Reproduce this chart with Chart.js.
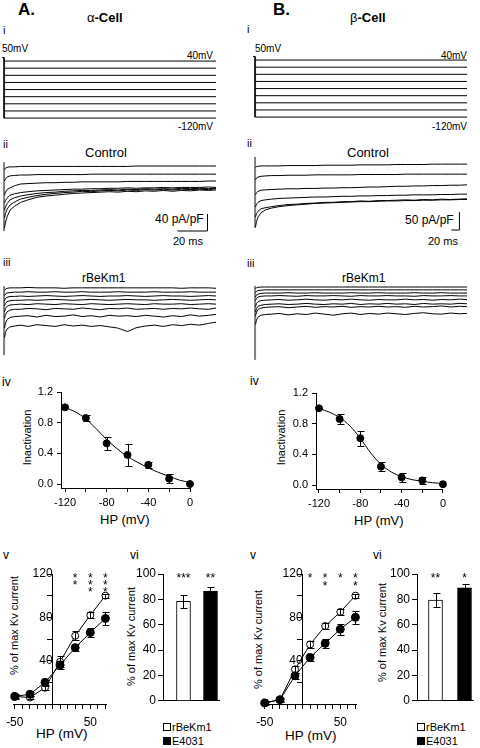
<!DOCTYPE html>
<html>
<head>
<meta charset="utf-8">
<script src="https://cdn.jsdelivr.net/npm/chart.js@4.4.1/dist/chart.umd.min.js"></script>
<style>
body { margin: 0; background: #fff; }
#fig { position: relative; width: 480px; height: 748px; overflow: hidden; font-family: "Liberation Sans", Arial, sans-serif; color: #000; }
#fig canvas { position: absolute; }
.t { position: absolute; white-space: nowrap; line-height: 1; }
.rot { transform: rotate(-90deg); transform-origin: center; text-align: center; width: 140px; }
.sq { position: absolute; width: 6px; height: 6px; border: 1px solid #000; }
</style>
</head>
<body>
<div id="fig">
  <!-- panel A -->
  <div class="t" style="left:18px;top:1px;font-size:17px;font-weight:bold">A.</div>
  <div class="t" style="left:87px;top:11px;font-size:13px">α<b>-Cell</b></div>
  <div class="t" style="left:3px;top:25px;font-size:11px">i</div>
  <div class="t" style="left:2px;top:44px;font-size:10px">50mV</div>
  <div class="t" style="right:267px;top:51px;font-size:10px">40mV</div>
  <div class="t" style="right:267px;top:122px;font-size:10px">-120mV</div>
  <div class="t" style="left:3px;top:139px;font-size:11px">ii</div>
  <div class="t" style="left:85px;top:146px;font-size:13px">Control</div>
  <div class="t" style="left:155px;top:213px;font-size:12px">40 pA/pF</div>
  <div class="t" style="left:173px;top:236px;font-size:11px">20 ms</div>
  <div class="t" style="left:3px;top:257px;font-size:11px">iii</div>
  <div class="t" style="left:82px;top:272px;font-size:12px">rBeKm1</div>
  <div class="t" style="left:2px;top:376px;font-size:12px">iv</div>
  <div class="t rot" style="left:-43px;top:432px;font-size:11px">Inactivation</div>
  <div class="t" style="left:100px;top:513px;font-size:13px">HP (mV)</div>
  <div class="t" style="left:3px;top:549px;font-size:12px">v</div>
  <div class="t" style="left:130px;top:549px;font-size:12px">vi</div>
  <div class="t rot" style="left:-56px;top:620px;font-size:11px">% of max Kv current</div>
  <div class="t" style="left:36px;top:727px;font-size:13.5px">HP (mV)</div>
  <div class="t rot" style="left:61px;top:631px;font-size:11px">% of max Kv current</div>
  <div class="sq" style="left:163px;top:723px;background:#fff"></div>
  <div class="t" style="left:172px;top:722px;font-size:11px">rBeKm1</div>
  <div class="sq" style="left:163px;top:737px;background:#000"></div>
  <div class="t" style="left:172px;top:736px;font-size:11px">E4031</div>

  <!-- panel B -->
  <div class="t" style="left:273px;top:1px;font-size:17px;font-weight:bold">B.</div>
  <div class="t" style="left:350px;top:11px;font-size:13px">β<b>-Cell</b></div>
  <div class="t" style="left:247px;top:24px;font-size:11px">i</div>
  <div class="t" style="left:255px;top:44px;font-size:10px">50mV</div>
  <div class="t" style="right:13px;top:51px;font-size:10px">40mV</div>
  <div class="t" style="right:13px;top:122px;font-size:10px">-120mV</div>
  <div class="t" style="left:247px;top:138px;font-size:11px">ii</div>
  <div class="t" style="left:347px;top:146px;font-size:13px">Control</div>
  <div class="t" style="left:405px;top:214px;font-size:12px">50 pA/pF</div>
  <div class="t" style="left:428px;top:236px;font-size:11px">20 ms</div>
  <div class="t" style="left:247px;top:258px;font-size:11px">iii</div>
  <div class="t" style="left:342px;top:272px;font-size:12px">rBeKm1</div>
  <div class="t" style="left:250px;top:375px;font-size:12px">iv</div>
  <div class="t rot" style="left:211px;top:432px;font-size:11px">Inactivation</div>
  <div class="t" style="left:354px;top:514px;font-size:13px">HP (mV)</div>
  <div class="t" style="left:250px;top:549px;font-size:12px">v</div>
  <div class="t" style="left:373px;top:549px;font-size:12px">vi</div>
  <div class="t rot" style="left:188px;top:634px;font-size:11px">% of max Kv current</div>
  <div class="t" style="left:285px;top:729px;font-size:13.5px">HP (mV)</div>
  <div class="t rot" style="left:312px;top:627px;font-size:11px">% of max Kv current</div>
  <div class="sq" style="left:417px;top:723px;background:#fff"></div>
  <div class="t" style="left:426px;top:722px;font-size:11px">rBeKm1</div>
  <div class="sq" style="left:417px;top:737px;background:#000"></div>
  <div class="t" style="left:426px;top:736px;font-size:11px">E4031</div>
</div>

<script>
// ---- i: voltage protocol (mV, ms) ----
var holdLevels = [40, 20, 0, -20, -40, -60, -80, -100, -120];
var testPulse = 50;
var alphaSweep = 141;
var betaSweep = 529;

// ---- ii / iii: current traces in pA/pF, sampled at the time points below (ms) ----
var alphaTime = [0.3, 1, 2, 4, 7, 11, 16, 22, 28, 34, 40, 46, 52, 58, 64, 70, 76, 82, 88, 94, 100, 106, 112, 118, 124, 130, 136, 141];
var betaTime = [1.1, 3.8, 7.5, 15, 26, 41, 60, 83, 105, 128, 150, 173, 195, 218, 240, 263, 285, 308, 330, 353, 375, 398, 420, 443, 465, 488, 510, 529];

var alphaControl = [
  [152, 156, 158, 159, 159, 160, 160, 160, 160, 160, 160, 160, 160, 160, 160, 160, 160, 160, 161, 161, 161, 161, 161, 161, 161, 161, 161, 161],
  [126, 131, 135, 138, 139, 140, 140, 141, 141, 141, 141, 141, 141, 142, 142, 142, 142, 142, 142, 142, 142, 142, 142, 142, 142, 142, 142, 142],
  [93, 100, 106, 110, 115, 119, 120, 121, 122, 122, 123, 123, 124, 124, 124, 124, 124, 125, 125, 125, 125, 125, 125, 125, 125, 125, 126, 126],
  [75, 80, 86, 93, 96, 99, 101, 103, 104, 105, 106, 107, 107, 108, 108, 109, 109, 110, 109, 110, 110, 111, 110, 111, 111, 111, 112, 111],
  [58, 66, 73, 82, 87, 91, 94, 97, 99, 100, 102, 103, 104, 104, 105, 106, 105, 107, 106, 108, 107, 108, 107, 109, 108, 109, 108, 109],
  [40, 50, 60, 70, 77, 84, 88, 92, 95, 97, 99, 100, 102, 101, 103, 104, 103, 105, 104, 106, 105, 107, 105, 107, 106, 107, 106, 108],
  [16, 30, 42, 58, 67, 76, 82, 88, 91, 93, 95, 97, 98, 99, 100, 101, 100, 102, 101, 103, 102, 104, 102, 104, 103, 105, 104, 105]
];
var alphaRbekm1 = [
  [160, 163, 165, 166, 166, 166, 167, 166, 166, 166, 165, 166, 166, 166, 166, 166, 166, 166, 166, 166, 166, 166, 166, 165, 166, 166, 166, 165],
  [148, 152, 154, 155, 156, 156, 157, 156, 156, 157, 156, 156, 157, 156, 156, 156, 157, 156, 156, 156, 157, 156, 156, 156, 157, 156, 156, 156],
  [136, 141, 144, 146, 146, 147, 146, 147, 148, 147, 146, 147, 148, 147, 146, 147, 147, 148, 147, 146, 147, 148, 147, 147, 146, 147, 148, 147],
  [124, 130, 134, 136, 137, 137, 138, 137, 138, 139, 138, 137, 138, 139, 138, 137, 138, 139, 138, 138, 137, 138, 139, 138, 137, 138, 139, 138],
  [110, 118, 123, 126, 127, 128, 127, 129, 128, 127, 129, 128, 127, 129, 128, 127, 128, 129, 128, 127, 129, 128, 128, 129, 127, 128, 129, 128],
  [95, 104, 110, 114, 116, 116, 118, 117, 115, 118, 117, 116, 119, 117, 115, 118, 117, 119, 116, 117, 118, 116, 118, 117, 119, 117, 116, 119],
  [72, 84, 92, 97, 99, 100, 101, 98, 102, 99, 100, 103, 99, 101, 98, 102, 100, 101, 99, 102, 100, 98, 101, 99, 103, 100, 102, 104],
  [50, 62, 70, 75, 77, 79, 76, 80, 78, 76, 80, 77, 79, 76, 78, 75, 72, 64, 73, 77, 79, 76, 80, 78, 81, 79, 83, 86]
];
var betaControl = [
  [180, 183, 184, 185, 185, 185, 185, 186, 186, 186, 186, 187, 187, 187, 187, 188, 188, 188, 188, 189, 189, 189, 189, 190, 190, 190, 190, 190],
  [146, 151, 154, 156, 157, 158, 158, 159, 159, 159, 160, 160, 160, 160, 160, 161, 161, 161, 161, 161, 162, 162, 162, 162, 162, 162, 162, 162],
  [104, 110, 114, 117, 118, 119, 120, 121, 121, 122, 122, 123, 123, 124, 124, 125, 126, 126, 127, 128, 128, 129, 129, 130, 130, 131, 131, 132],
  [70, 78, 83, 88, 90, 92, 94, 95, 96, 97, 98, 98, 99, 100, 100, 101, 101, 102, 102, 103, 103, 104, 104, 104, 105, 105, 106, 106],
  [42, 52, 58, 65, 68, 71, 74, 77, 78, 80, 81, 83, 83, 85, 85, 87, 86, 88, 88, 89, 90, 89, 91, 90, 92, 91, 92, 93],
  [14, 30, 42, 54, 62, 67, 71, 74, 76, 78, 80, 81, 82, 83, 84, 85, 85, 86, 87, 87, 88, 88, 89, 89, 90, 90, 91, 91]
];
var betaRbekm1 = [
  [205, 208, 209, 210, 210, 210, 210, 210, 210, 210, 210, 210, 210, 210, 210, 210, 210, 210, 210, 210, 210, 210, 210, 210, 210, 210, 210, 210],
  [194, 198, 200, 201, 202, 202, 202, 202, 202, 202, 202, 202, 202, 202, 202, 202, 202, 202, 202, 202, 202, 202, 202, 202, 202, 202, 202, 202],
  [182, 188, 190, 192, 193, 193, 193, 194, 193, 193, 194, 193, 193, 193, 194, 193, 193, 194, 193, 193, 193, 194, 193, 193, 194, 193, 193, 193],
  [172, 178, 182, 184, 185, 185, 186, 185, 184, 186, 185, 185, 186, 185, 184, 186, 185, 185, 186, 185, 185, 184, 186, 185, 185, 186, 185, 185],
  [155, 164, 169, 172, 173, 174, 175, 173, 174, 176, 174, 173, 175, 174, 176, 174, 173, 175, 174, 174, 176, 174, 175, 173, 175, 174, 176, 175],
  [140, 150, 156, 159, 161, 162, 163, 161, 162, 164, 162, 161, 163, 162, 164, 161, 163, 162, 164, 162, 163, 161, 164, 162, 163, 162, 164, 163],
  [128, 140, 147, 151, 153, 154, 155, 152, 154, 156, 153, 155, 154, 156, 153, 155, 154, 156, 154, 155, 153, 156, 154, 155, 157, 154, 156, 155],
  [105, 118, 126, 131, 133, 134, 136, 132, 135, 133, 137, 134, 131, 135, 137, 133, 136, 134, 137, 135, 133, 136, 138, 135, 134, 137, 135, 136]
];
// capacitive transient at pulse onset (pA/pF span)
var alphaCtrlSpike = [9, 170];
var alphaRbSpike = [9, 170];
var betaCtrlSpike = [11, 210];
var betaRbSpike = [6, 213];
// scale bars: 20 ms and 40 / 50 pA/pF
var alphaBarT = [115.3, 135.3, 135.3];
var alphaBarI = [9.3, 9.3, 49.3];
var betaBarT = [490, 510, 510];
var betaBarI = [5.6, 5.6, 55.6];

// ---- iv: steady-state inactivation ----
var hpInact = [-120, -100, -80, -60, -40, -20, 0];
var alphaInact = [1.0, 0.86, 0.53, 0.38, 0.25, 0.07, 0.0];
var alphaInactErr = [0, 0.04, 0.085, 0.14, 0.035, 0.055, 0];
var betaInact = [1.0, 0.86, 0.61, 0.24, 0.1, 0.06, 0.01];
var betaInactErr = [0, 0.06, 0.1, 0.06, 0.06, 0.05, 0];
var hpFit = [-120, -110, -100, -90, -80, -70, -60, -50, -40, -30, -20, -10, 0];
var alphaFit = [1.0, 0.94, 0.85, 0.72, 0.58, 0.46, 0.36, 0.28, 0.21, 0.15, 0.1, 0.05, 0.02];
var betaFit = [1.0, 0.95, 0.88, 0.77, 0.61, 0.42, 0.27, 0.17, 0.11, 0.07, 0.05, 0.03, 0.02];

// ---- v: % of max Kv current vs HP ----
var hpV = [-50, -30, -10, 10, 30, 50, 70];
var alphaRb = [7, 6, 15, 39, 63, 82, 100];
var alphaRbErr = [1, 1, 2, 5, 4, 3, 2];
var alphaE4031 = [7, 9, 20, 36, 52, 66, 79];
var alphaE4031Err = [2, 2, 2, 4, 3, 4, 6];
var alphaVStars = ['', '', '', '', '**', '***', '***'];
var betaRb = [1, 4, 32, 55, 72, 85, 100];
var betaRbErr = [1, 1, 3, 3, 3, 3, 2];
var betaE4031 = [1, 4, 26, 43, 56, 69, 80];
var betaE4031Err = [2, 2, 3, 3, 4, 5, 6];
var betaVStars = ['', '', '', '*', '**', '*', '**'];

// ---- vi: bars ----
var barNames = ['rBeKm1', 'E4031'];
var alphaBars = [78.5, 86.5];
var alphaBarsErr = [5, 3];
var alphaBarStars = ['***', '**'];
var betaBars = [79.5, 89];
var betaBarsErr = [5.5, 3.5];
var betaBarStars = ['**', '*'];

Chart.defaults.font.family = '"Liberation Sans", Arial, sans-serif';
Chart.defaults.font.size = 11;
Chart.defaults.color = '#000';
Chart.defaults.animation = false;
Chart.defaults.responsive = false;
Chart.defaults.devicePixelRatio = 1;
Chart.defaults.events = [];
Chart.defaults.plugins.legend.display = false;
Chart.defaults.plugins.tooltip.enabled = false;

var fig = document.getElementById('fig');

function canvasAt(left, top, w, h) {
  var c = document.createElement('canvas');
  c.width = w; c.height = h;
  c.style.left = left + 'px'; c.style.top = top + 'px';
  c.style.width = w + 'px'; c.style.height = h + 'px';
  fig.appendChild(c);
  return c;
}

function pts(xs, ys) {
  return xs.map(function (x, i) { return { x: x, y: ys[i] }; });
}

function lineSet(xs, ys, extra) {
  return Object.assign({
    data: pts(xs, ys), showLine: true, borderColor: '#000', borderWidth: 1,
    pointRadius: 0, clip: false, tension: 0
  }, extra || {});
}

function fixedTicks(vals) {
  return function (s) { s.ticks = vals.map(function (v) { return { value: v }; }); };
}

// error bars drawn with the chart's own y scale
var errorBars = {
  id: 'errorBars',
  afterDatasetsDraw: function (chart) {
    var ctx = chart.ctx, ys = chart.scales.y;
    chart.data.datasets.forEach(function (ds, i) {
      if (!ds.errors) return;
      var meta = chart.getDatasetMeta(i);
      meta.data.forEach(function (el, j) {
        var e = ds.errors[j];
        if (!e) return;
        var v = ds.data[j].y;
        var top = Math.round(ys.getPixelForValue(v + e)) + 0.5;
        var bot = Math.round(ys.getPixelForValue(v - e)) + 0.5;
        var x = Math.round(el.x) + 0.5;
        ctx.save();
        ctx.strokeStyle = '#000';
        ctx.lineWidth = 1;
        ctx.beginPath();
        ctx.moveTo(x, top); ctx.lineTo(x, bot);
        ctx.moveTo(x - 3, top); ctx.lineTo(x + 4, top);
        ctx.moveTo(x - 3, bot); ctx.lineTo(x + 4, bot);
        ctx.stroke();
        ctx.restore();
      });
    });
  }
};

// significance stars placed at x values through the x scale
var starMarks = {
  id: 'starMarks',
  afterDatasetsDraw: function (chart, args, o) {
    if (!o.marks) return;
    var ctx = chart.ctx, xs = chart.scales.x;
    ctx.save();
    ctx.fillStyle = '#000';
    ctx.font = '12px "Liberation Sans", Arial, sans-serif';
    ctx.textAlign = 'center';
    ctx.textBaseline = 'alphabetic';
    o.marks.forEach(function (m, j) {
      if (!m) return;
      var x = xs.getPixelForValue(o.at[j]);
      var y0 = chart.chartArea.top + o.dy + 6.6;
      if (o.stack) {
        for (var k = 0; k < m.length; k++) ctx.fillText('*', x, y0 + k * o.gap);
      } else {
        ctx.fillText(m, x, y0);
      }
    });
    ctx.restore();
  }
};

var PAD = 3;
function traceChart(area, xr, yr, datasets) {
  var c = canvasAt(area[0] - PAD, area[1] - PAD, area[2] + 2 * PAD, area[3] + 2 * PAD);
  return new Chart(c, {
    type: 'scatter',
    data: { datasets: datasets },
    options: {
      layout: { padding: PAD },
      scales: {
        x: { type: 'linear', display: false, min: xr[0], max: xr[1] },
        y: { type: 'linear', display: false, min: yr[0], max: yr[1] }
      }
    }
  });
}

function protocolSets(end) {
  var sets = holdLevels.map(function (L) { return lineSet([0, end], [L, L]); });
  sets.push(lineSet([-end / 106, 0, 0], [testPulse, testPulse, holdLevels[holdLevels.length - 1]]));
  return sets;
}

function currentSets(time, traces, spike, barT, barI) {
  var sets = [lineSet([0, 0], spike)];
  traces.forEach(function (tr) { sets.push(lineSet(time, tr)); });
  if (barT) sets.push(lineSet(barT, barI));
  return sets;
}

function axisBase(extra) {
  return Object.assign({
    type: 'linear',
    grid: { drawOnChartArea: false, tickLength: 4, color: '#000', lineWidth: 1 },
    border: { display: true, color: '#000', width: 1 }
  }, extra);
}

// iv panel
function inactChart(box, area, xr, yr, ys, errs, fit) {
  var c = canvasAt(box[0], box[1], box[2], box[3]);
  var yw = area[0] - box[0], xh = box[1] + box[3] - area[3];
  return new Chart(c, {
    type: 'scatter',
    data: {
      datasets: [
        { data: pts(hpInact, ys), errors: errs, pointRadius: 3.5, pointBackgroundColor: '#000', pointBorderColor: '#000', showLine: false, clip: false, order: 1 },
        lineSet(hpFit, fit, { cubicInterpolationMode: 'monotone', order: 2 })
      ]
    },
    options: {
      layout: { padding: { left: 0, top: area[1] - box[1], right: box[0] + box[2] - area[2], bottom: 0 } },
      scales: {
        x: axisBase({
          min: xr[0], max: xr[1],
          afterBuildTicks: fixedTicks([-120, -100, -80, -60, -40, -20, 0]),
          afterFit: function (s) { s.height = xh; },
          ticks: { autoSkip: false, maxRotation: 0, padding: 4, font: { size: 11 },
            callback: function (v) { return v % 40 === 0 ? String(v) : ''; } }
        }),
        y: axisBase({
          min: yr[0], max: yr[1],
          afterBuildTicks: fixedTicks([0, 0.2, 0.4, 0.6, 0.8, 1.0, 1.2]),
          afterFit: function (s) { s.width = yw; },
          ticks: { padding: 4, font: { size: 11 },
            callback: function (v) { return Math.round(v * 10) % 4 === 0 ? v.toFixed(1) : ''; } }
        })
      }
    },
    plugins: [errorBars]
  });
}

// v panel
function hpChart(box, area, xr, rb, rbErr, e4, e4Err, stars, starGap) {
  var c = canvasAt(box[0], box[1], box[2], box[3]);
  var xh = box[1] + box[3] - area[3];
  return new Chart(c, {
    type: 'scatter',
    data: {
      datasets: [
        lineSet(hpV, e4, { errors: e4Err, pointRadius: 4, pointBackgroundColor: '#000', pointBorderColor: '#000', order: 1 }),
        lineSet(hpV, rb, { errors: rbErr, pointRadius: 3.5, pointBackgroundColor: '#fff', pointBorderColor: '#000', pointBorderWidth: 1, order: 2 })
      ]
    },
    options: {
      layout: { padding: { left: area[0] - box[0], top: area[1] - box[1], right: box[0] + box[2] - area[2], bottom: 0 } },
      scales: {
        x: axisBase({
          min: xr[0], max: xr[1],
          afterBuildTicks: fixedTicks([-50, -40, -30, -20, -10, 0, 10, 20, 30, 40, 50, 60, 70]),
          afterFit: function (s) { s.height = xh; },
          grid: { drawOnChartArea: false, tickLength: 5, color: '#000', lineWidth: 1 },
          ticks: { autoSkip: false, maxRotation: 0, padding: 6, font: { size: 12 },
            callback: function (v) { return (v === -50 || v === 50) ? String(v) : ''; } }
        }),
        y: axisBase({
          min: 0, max: 120,
          position: { x: 0 },
          afterBuildTicks: fixedTicks([20, 40, 60, 80, 100, 120]),
          grid: { drawOnChartArea: false, tickLength: 5, color: '#000', lineWidth: 1 },
          ticks: { padding: 3, font: { size: 12 },
            callback: function (v) { return v % 40 === 0 ? String(v) : ''; } }
        })
      },
      plugins: { starMarks: { marks: stars, at: hpV, stack: true, gap: starGap, dy: 1 } }
    },
    plugins: [errorBars, starMarks]
  });
}

// vi panel
function barChart(box, area, xr, vals, errs, stars) {
  var c = canvasAt(box[0], box[1], box[2], box[3]);
  var yw = area[0] - box[0], xh = box[1] + box[3] - area[3];
  return new Chart(c, {
    type: 'bar',
    data: {
      datasets: [{
        label: barNames.join(' / '),
        data: pts([1, 2], vals), errors: errs,
        backgroundColor: ['#fff', '#000'], borderColor: '#000', borderWidth: 1,
        barThickness: 14
      }]
    },
    options: {
      layout: { padding: { left: 0, top: area[1] - box[1], right: box[0] + box[2] - area[2], bottom: 0 } },
      scales: {
        x: {
          type: 'linear', min: xr[0], max: xr[1], offset: false,
          grid: { display: false, offset: false }, ticks: { display: false },
          border: { display: true, color: '#000', width: 1 },
          afterFit: function (s) { s.height = xh; }
        },
        y: axisBase({
          min: 0, max: 100,
          afterBuildTicks: fixedTicks([0, 20, 40, 60, 80, 100]),
          afterFit: function (s) { s.width = yw; },
          grid: { drawOnChartArea: false, tickLength: 5, color: '#000', lineWidth: 1 },
          ticks: { padding: 2, font: { size: 12 } }
        })
      },
      plugins: { starMarks: { marks: stars, at: [1, 2], stack: false, dy: 1 } }
    },
    plugins: [errorBars, starMarks]
  });
}

// ---------- panel A (alpha cell) ----------
traceChart([2, 55, 213.5, 67], [-alphaSweep / 106, alphaSweep], [-131, 57], protocolSets(alphaSweep));
traceChart([4, 160, 211.5, 75], [0, alphaSweep], [0, 175], currentSets(alphaTime, alphaControl, alphaCtrlSpike, alphaBarT, alphaBarI));
traceChart([4, 284, 211.5, 75], [0, alphaSweep], [0, 175], currentSets(alphaTime, alphaRbekm1, alphaRbSpike));
inactChart([0, 380, 200, 150], [61, 392, 190, 488], [-123.84, 0], [-0.052, 1.2], alphaInact, alphaInactErr, alphaFit);
hpChart([0, 560, 125, 188], [12, 574, 107, 704], [-51.3, 72.1], alphaRb, alphaRbErr, alphaE4031, alphaE4031Err, alphaVStars, 7);
barChart([120, 560, 110, 150], [163, 574, 219, 708], [0.241, 2.315], alphaBars, alphaBarsErr, alphaBarStars);

// ---------- panel B (beta cell) ----------
traceChart([253, 54, 213.5, 67], [-betaSweep / 106, betaSweep], [-131, 57], protocolSets(betaSweep));
traceChart([255, 157, 211.5, 75], [0, betaSweep], [0, 210], currentSets(betaTime, betaControl, betaCtrlSpike, betaBarT, betaBarI));
traceChart([255, 287, 211.5, 75], [0, betaSweep], [0, 210], currentSets(betaTime, betaRbekm1, betaRbSpike));
inactChart([250, 380, 200, 150], [316, 393, 445, 489], [-122.9, 0], [-0.052, 1.2], betaInact, betaInactErr, betaFit);
hpChart([250, 560, 125, 188], [262, 574, 357, 704], [-51.3, 72.1], betaRb, betaRbErr, betaE4031, betaE4031Err, betaVStars, 8);
barChart([370, 560, 110, 150], [417, 574, 473, 707], [0.362, 2.293], betaBars, betaBarsErr, betaBarStars);
</script>
</body>
</html>
